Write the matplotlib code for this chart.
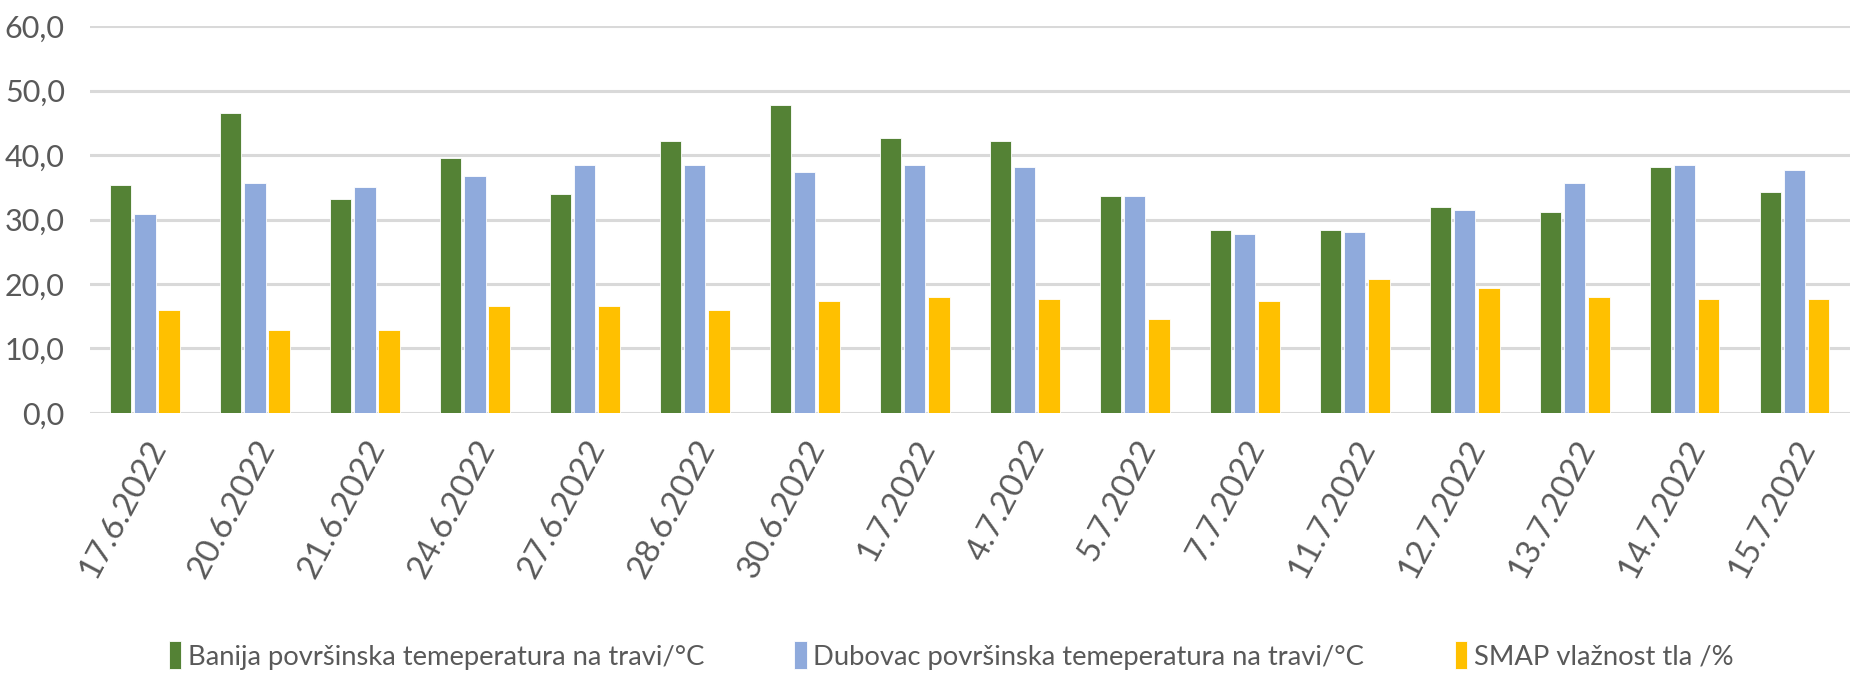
import numpy as np
import matplotlib
matplotlib.use('Agg')
import matplotlib.pyplot as plt

plt.rcParams['font.family'] = ['Lato', 'DejaVu Sans']

# Data
dates = ['17.6.2022', '20.6.2022', '21.6.2022', '24.6.2022', '27.6.2022', '28.6.2022',
         '30.6.2022', '1.7.2022', '4.7.2022', '5.7.2022', '7.7.2022', '11.7.2022',
         '12.7.2022', '13.7.2022', '14.7.2022', '15.7.2022']
banija = [35.3, 46.5, 33.2, 39.5, 34.0, 42.2, 47.8, 42.6, 42.2, 33.6, 28.4, 28.4,
          31.9, 31.2, 38.1, 34.3]
dubovac = [30.8, 35.7, 35.0, 36.8, 38.5, 38.5, 37.4, 38.5, 38.1, 33.6, 27.7, 28.1,
           31.5, 35.7, 38.5, 37.7]
smap = [15.9, 12.8, 12.8, 16.6, 16.6, 15.9, 17.3, 18.0, 17.6, 14.5, 17.3, 20.8,
        19.4, 18.0, 17.6, 17.6]
labels = ['Banija površinska temeperatura na travi/°C',
          'Dubovac površinska temeperatura na travi/°C',
          'SMAP vlažnost tla /%']
colors = ['#548235', '#8FAADC', '#FFC000']
text_color = '#595959'

fig = plt.figure(figsize=(18.72, 6.86), dpi=100)
ax = fig.add_axes([0.048, 0.398, 0.94, 0.564])

x = np.arange(len(dates))
w = 0.195
step = 0.22
for i, (vals, lab, col) in enumerate(zip([banija, dubovac, smap], labels, colors)):
    ax.bar(x + (i - 1) * step, vals, width=w, color=col, label=lab,
           edgecolor='white', linewidth=0.6, zorder=3)

ax.set_ylim(0, 60)
ax.set_xlim(-0.5, len(dates) - 0.5)
ax.set_yticks(np.arange(0, 61, 10))
ax.set_yticklabels([f'{v:.1f}'.replace('.', ',') for v in np.arange(0, 61, 10)])
ax.yaxis.grid(True, color='#d9d9d9', linewidth=2.2, zorder=0)
ax.set_axisbelow(True)
for s in ax.spines.values():
    s.set_visible(False)
ax.tick_params(axis='both', length=0, colors=text_color, labelsize=22)
ax.tick_params(axis='y', pad=18)

ax.set_xticks(x)
ax.set_xticklabels(dates, rotation=62, ha='right', rotation_mode='anchor',
                   fontsize=24, color=text_color)
ax.tick_params(axis='x', pad=16)

leg = fig.legend(loc='lower center', bbox_to_anchor=(0.508, -0.012), ncol=3,
                 frameon=False, fontsize=19.7, handlelength=0.45, handleheight=1.2,
                 handletextpad=0.25, columnspacing=3.3, labelcolor=text_color)

plt.savefig('out.png', dpi=100)
